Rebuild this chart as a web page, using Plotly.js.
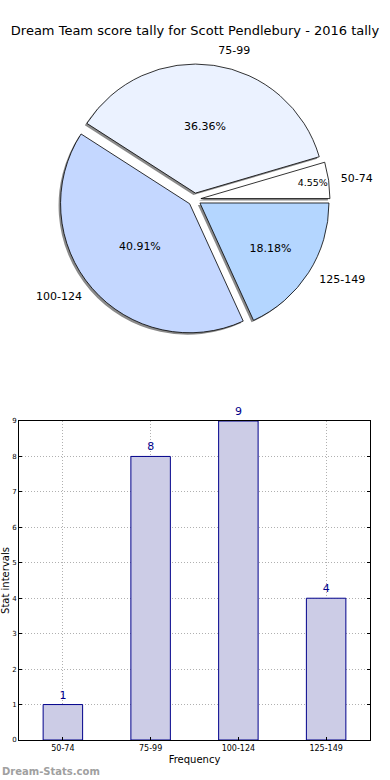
<!DOCTYPE html>
<html>
<head>
<meta charset="utf-8">
<script src="https://cdn.plot.ly/plotly-3.0.1.min.js"></script>
<style>html,body{margin:0;padding:0;background:#fff;}#chart{width:390px;height:780px;}</style>
</head>
<body>
<div id="chart"></div>
<script>
const categories = ["50-74", "75-99", "100-124", "125-149"];
const counts = [1, 8, 9, 4];
const sliceColors = ["#ffffff", "#ebf2ff", "#c4d7ff", "#b4d6ff"];
const titleText = "Dream Team score tally for Scott Pendlebury - 2016 tally";
const yTicks = [0, 1, 2, 3, 4, 5, 6, 7, 8, 9];

const W = 390, H = 780;
const px = v => v / W, py = v => 1 - v / H;
const pieCx = 194.5, pieCy = 199.5, pieSize = 271;
const pull = 0.05, labelPull = 0.12;
const pieR = pieSize / (2 + 2 * pull);
const labelSize = pieR * (2 + 2 * labelPull);
const dom = (s, dx, dy) => ({x: [px(pieCx - s / 2 + dx), px(pieCx + s / 2 + dx)],
                             y: [py(pieCy + s / 2 + dy), py(pieCy - s / 2 + dy)]});
const pulls = categories.map(() => pull);
const total = counts.reduce((a, b) => a + b, 0);
// first slice must start at 3 o'clock and run counterclockwise
const rot = 90 - 360 * counts[0] / total;
const font = "DejaVu Sans, Liberation Sans, sans-serif";

const shadow = {
  type: "pie", values: counts, labels: categories, sort: false,
  direction: "counterclockwise", rotation: rot, pull: pulls,
  marker: {colors: categories.map(() => "#8a8a8a"), line: {width: 0}},
  textinfo: "none", hoverinfo: "skip", showlegend: false,
  domain: dom(pieSize, -2, 2)
};
const main = {
  type: "pie", values: counts, labels: categories, sort: false,
  direction: "counterclockwise", rotation: rot, pull: pulls,
  marker: {colors: sliceColors, line: {width: 0.8, color: "#000"}},
  texttemplate: "%{percent:.2%}", textposition: "inside", insidetextorientation: "horizontal",
  textfont: {family: font, size: 11, color: "#000"},
  showlegend: false, domain: dom(pieSize, 0, 0)
};
const labelsTrace = {
  type: "pie", values: counts, labels: categories, sort: false,
  direction: "counterclockwise", rotation: rot, pull: categories.map(() => labelPull),
  marker: {colors: categories.map(() => "rgba(0,0,0,0)"), line: {width: 0}},
  textinfo: "label", textposition: "outside",
  outsidetextfont: {family: font, size: 11, color: "#000"},
  hoverinfo: "skip", showlegend: false, domain: dom(labelSize, 0, 0)
};
const bars = {
  type: "bar", x: categories, y: counts, text: counts.map(String),
  textposition: "outside", cliponaxis: false,
  textfont: {family: font, size: 11, color: "#00008b"},
  marker: {color: "#cccce6", line: {color: "#00008b", width: 1}},
  width: 0.45, showlegend: false, xaxis: "x", yaxis: "y"
};

const layout = {
  width: W, height: H, margin: {l: 0, r: 0, t: 0, b: 0},
  paper_bgcolor: "#fff", plot_bgcolor: "#fff",
  font: {family: font, color: "#000"},
  title: {text: titleText, x: 0.5, xanchor: "center", y: py(30), yanchor: "middle",
          font: {family: font, size: 13, color: "#000"}},
  xaxis: {domain: [px(19), px(370)], type: "category",
          showgrid: true, gridcolor: "#b0b0b0", griddash: "1px,2px", gridwidth: 1,
          showline: true, linecolor: "#000", linewidth: 1, mirror: true,
          ticks: "inside", ticklen: 3, tickcolor: "#000",
          tickfont: {family: font, size: 8, color: "#000"},
          title: {text: "Frequency", font: {family: font, size: 10, color: "#000"}, standoff: 4},
          automargin: false, fixedrange: true},
  yaxis: {domain: [py(740), py(421)], range: [0, 9], tickvals: yTicks,
          showgrid: true, gridcolor: "#b0b0b0", griddash: "1px,2px", gridwidth: 1,
          zeroline: false,
          showline: true, linecolor: "#000", linewidth: 1, mirror: "ticks",
          ticks: "inside", ticklen: 3, tickcolor: "#000",
          tickfont: {family: font, size: 7, color: "#000"},
          title: {text: "Stat intervals", font: {family: font, size: 10, color: "#000"}, standoff: 2},
          automargin: false, fixedrange: true},
  annotations: [{text: "<b>Dream-Stats.com</b>", xref: "paper", yref: "paper",
                 x: 0, y: py(771), xanchor: "left", yanchor: "middle", showarrow: false,
                 font: {family: font, size: 10, color: "#a0a0a0"}}]
};

Plotly.newPlot("chart", [shadow, main, labelsTrace, bars], layout, {displayModeBar: false, staticPlot: true});
</script>
</body>
</html>
